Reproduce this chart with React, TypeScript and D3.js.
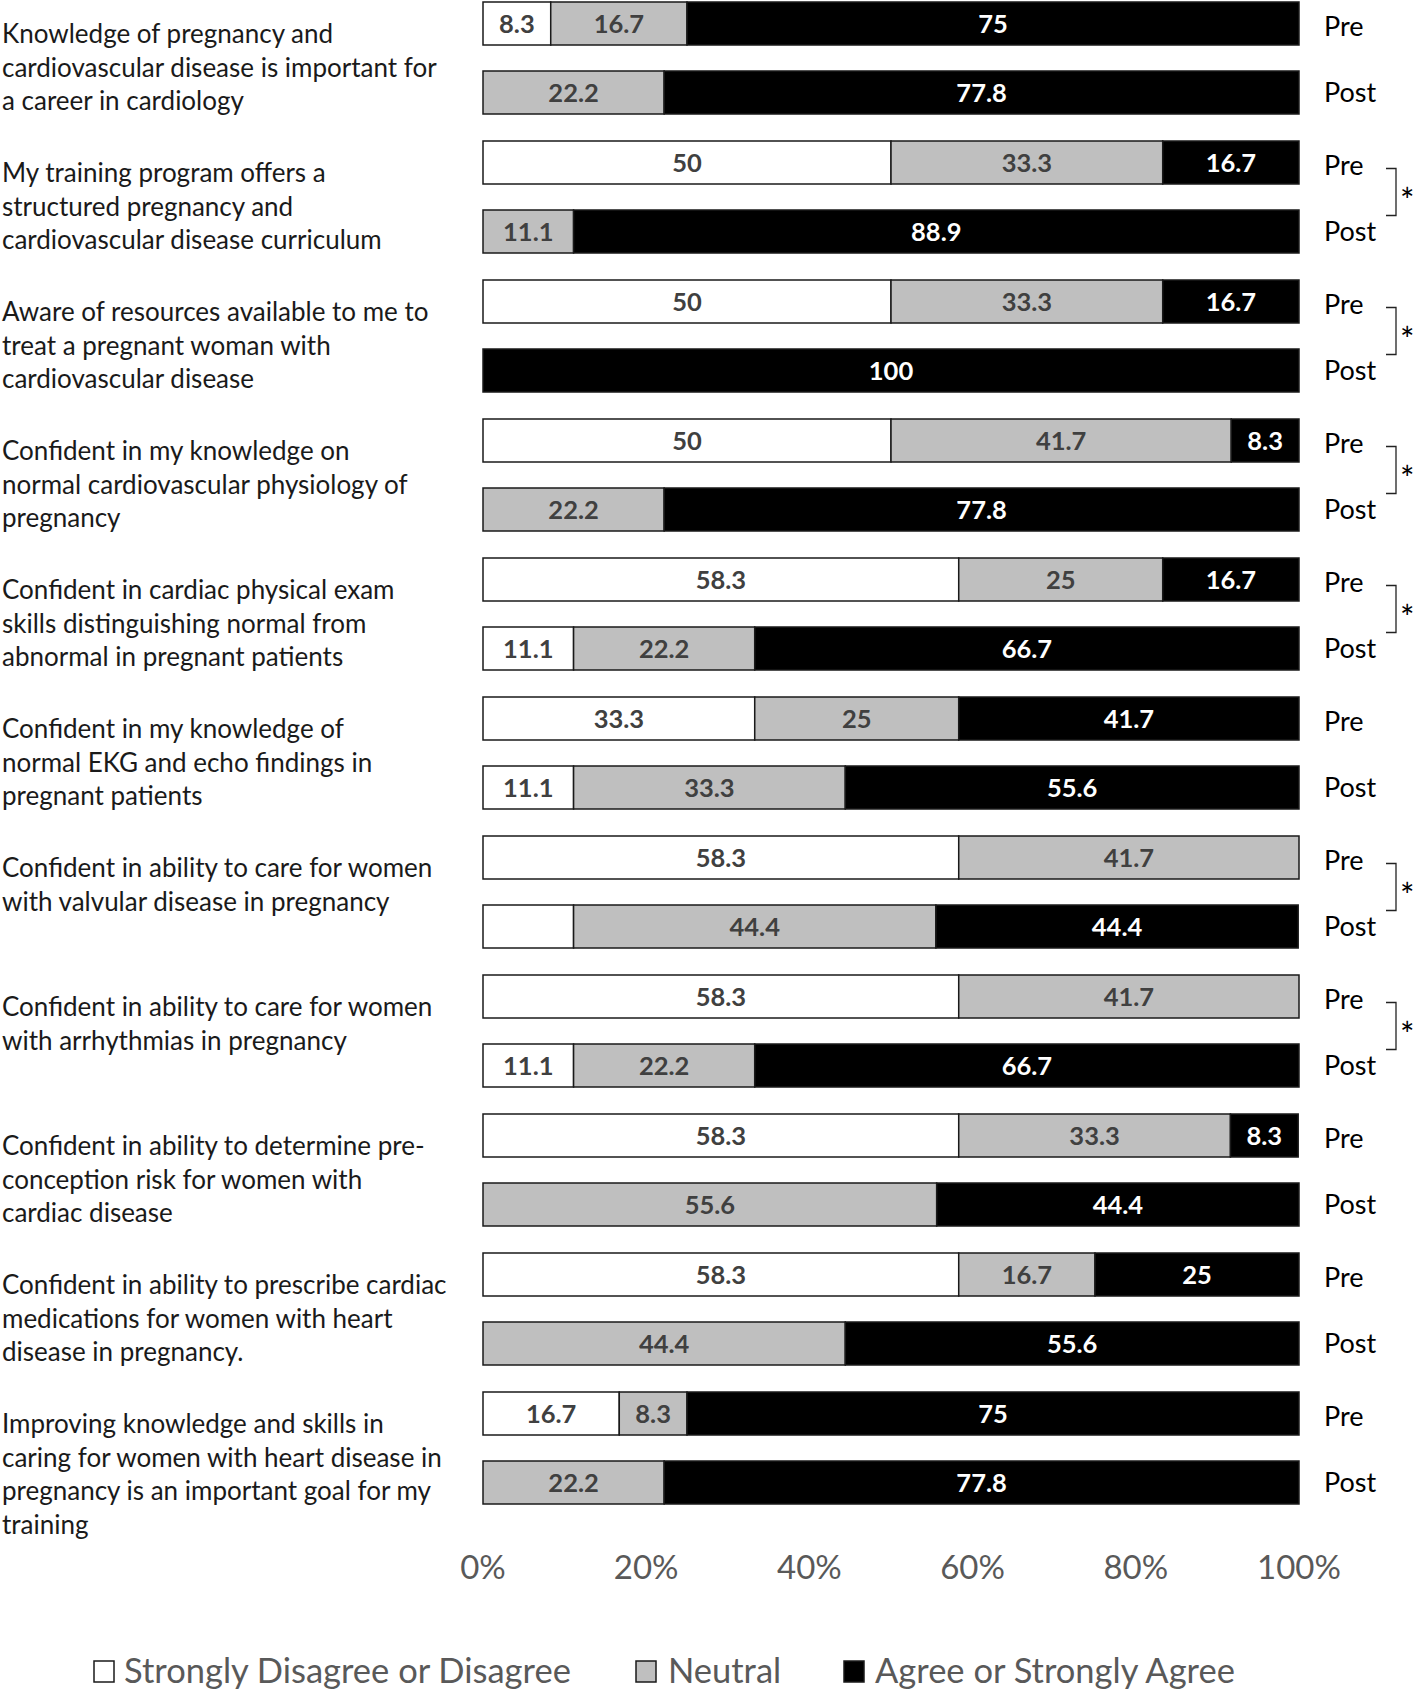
import React from "react";
import * as d3 from "d3";

// survey statements (line breaks as in the original figure)
const categories: string[][] = [
  ["Knowledge of pregnancy and", "cardiovascular disease is important for", "a career in cardiology"],
  ["My training program offers a", "structured pregnancy and", "cardiovascular disease curriculum"],
  ["Aware of resources available to me to", "treat a pregnant woman with", "cardiovascular disease"],
  ["Confident in my knowledge on", "normal cardiovascular physiology of", "pregnancy"],
  ["Confident in cardiac physical exam", "skills distinguishing normal from", "abnormal in pregnant patients"],
  ["Confident in my knowledge of", "normal EKG and echo findings in", "pregnant patients"],
  ["Confident in ability to care for women", "with valvular disease in pregnancy"],
  ["Confident in ability to care for women", "with arrhythmias in pregnancy"],
  ["Confident in ability to determine pre-", "conception risk for women with", "cardiac disease"],
  ["Confident in ability to prescribe cardiac", "medications for women with heart", "disease in pregnancy."],
  ["Improving knowledge and skills in", "caring for women with heart disease in", "pregnancy is an important goal for my", "training"],
];

const seriesNames = ["Strongly Disagree or Disagree", "Neutral", "Agree or Strongly Agree"];

// [disagree, neutral, agree] percentages
const preValues: number[][] = [
  [8.3, 16.7, 75],
  [50, 33.3, 16.7],
  [50, 33.3, 16.7],
  [50, 41.7, 8.3],
  [58.3, 25, 16.7],
  [33.3, 25, 41.7],
  [58.3, 41.7, 0],
  [58.3, 41.7, 0],
  [58.3, 33.3, 8.3],
  [58.3, 16.7, 25],
  [16.7, 8.3, 75],
];
const postValues: number[][] = [
  [0, 22.2, 77.8],
  [0, 11.1, 88.9],
  [0, 0, 100],
  [0, 22.2, 77.8],
  [11.1, 22.2, 66.7],
  [11.1, 33.3, 55.6],
  [11.1, 44.4, 44.4],
  [11.1, 22.2, 66.7],
  [0, 55.6, 44.4],
  [0, 44.4, 55.6],
  [0, 22.2, 77.8],
];
// segments whose value label is not printed in the figure: [row, segment]
const postHiddenLabels: [number, number][] = [[6, 0]];

const significant = [1, 2, 3, 4, 6, 7];
const tickValues = [0, 20, 40, 60, 80, 100];

const W = 1416;
const H = 1691;
const FONT = "Lato, 'Open Sans', sans-serif";
const fills = ["#ffffff", "#bfbfbf", "#000000"];
const labelColors = ["#404040", "#404040", "#ffffff"];

export default function App() {
  const x = d3.scaleLinear().domain([0, 100]).range([483, 1299]);
  const band = d3
    .scaleBand<number>()
    .domain(d3.range(categories.length))
    .range([2, 2 + 139 * categories.length]);
  const barH = 43;
  const postOffset = 69;
  const stack = d3.stack<number[]>().keys([0, 1, 2] as any).value((d, k) => d[k as any]);

  const renderBar = (vals: number[][], which: "pre" | "post") => {
    const layers = stack(vals);
    return layers.map((layer, s) =>
      layer.map((seg, i) => {
        const v = seg[1] - seg[0];
        if (v <= 0) return null;
        const y = (band(i) as number) + (which === "post" ? postOffset : 0);
        const hidden =
          which === "post" && postHiddenLabels.some(([r, c]) => r === i && c === s);
        const x0 = x(seg[0]);
        const x1 = x(seg[1]);
        return (
          <g key={`${which}-${s}-${i}`}>
            <rect
              x={x0}
              y={y}
              width={x1 - x0}
              height={barH}
              fill={fills[s]}
              stroke="#1a1a1a"
              strokeWidth={1.5}
            />
            {!hidden && (
              <text
                x={(x0 + x1) / 2}
                y={y + barH / 2}
                dy="0.36em"
                textAnchor="middle"
                fontFamily={FONT}
                fontWeight={700}
                fontSize={25.5}
                fill={labelColors[s]}
              >
                {d3.format("")(v)}
              </text>
            )}
          </g>
        );
      })
    );
  };

  const legendItems = [
    { x: 94, tx: 124 },
    { x: 636, tx: 668 },
    { x: 844, tx: 875 },
  ];

  return (
    <svg
      width={W}
      height={H}
      style={{ position: "absolute", left: 0, top: 0, background: "#fff" }}
    >
      {/* category labels */}
      {categories.map((lines, i) => (
        <text
          key={`cat-${i}`}
          fontFamily={FONT}
          fontSize={26}
          fill="#1a1a1a"
        >
          {lines.map((ln, j) => (
            <tspan key={j} x={2} y={(band(i) as number) + 32 + j * 33.5} dy="0.35em">
              {ln}
            </tspan>
          ))}
        </text>
      ))}

      {renderBar(preValues, "pre")}
      {renderBar(postValues, "post")}

      {/* Pre / Post labels */}
      {categories.map((_, i) => {
        const y = band(i) as number;
        return (
          <g key={`pp-${i}`} fontFamily={FONT} fontSize={27} fill="#000">
            <text x={1324} y={y + barH / 2 + 3} dy="0.36em">Pre</text>
            <text x={1324} y={y + postOffset + barH / 2} dy="0.36em">Post</text>
          </g>
        );
      })}

      {/* significance brackets */}
      {significant.map((i) => {
        const y = band(i) as number;
        const top = y + barH / 2 + 6;
        const bottom = y + postOffset + barH / 2 - 16;
        return (
          <g key={`sig-${i}`}>
            <path
              d={`M1386,${top}H1396V${bottom}H1386`}
              fill="none"
              stroke="#222"
              strokeWidth={1.3}
            />
            <text
              x={1400}
              y={(top + bottom) / 2}
              dy="0.62em"
              fontFamily={FONT}
              fontSize={34}
              fill="#000"
            >
              *
            </text>
          </g>
        );
      })}

      {/* x axis tick labels */}
      {tickValues.map((t) => (
        <text
          key={`tick-${t}`}
          x={x(t)}
          y={1567}
          dy="0.36em"
          textAnchor="middle"
          fontFamily={FONT}
          fontSize={33}
          fill="#595959"
        >
          {t}%
        </text>
      ))}

      {/* legend */}
      {seriesNames.map((name, s) => (
        <g key={`leg-${s}`}>
          <rect
            x={legendItems[s].x}
            y={1661}
            width={20}
            height={21}
            fill={fills[s]}
            stroke="#1a1a1a"
            strokeWidth={1.5}
          />
          <text
            x={legendItems[s].tx}
            y={1671}
            dy="0.36em"
            fontFamily={FONT}
            fontSize={34.5}
            fill="#595959"
          >
            {name}
          </text>
        </g>
      ))}
    </svg>
  );
}
